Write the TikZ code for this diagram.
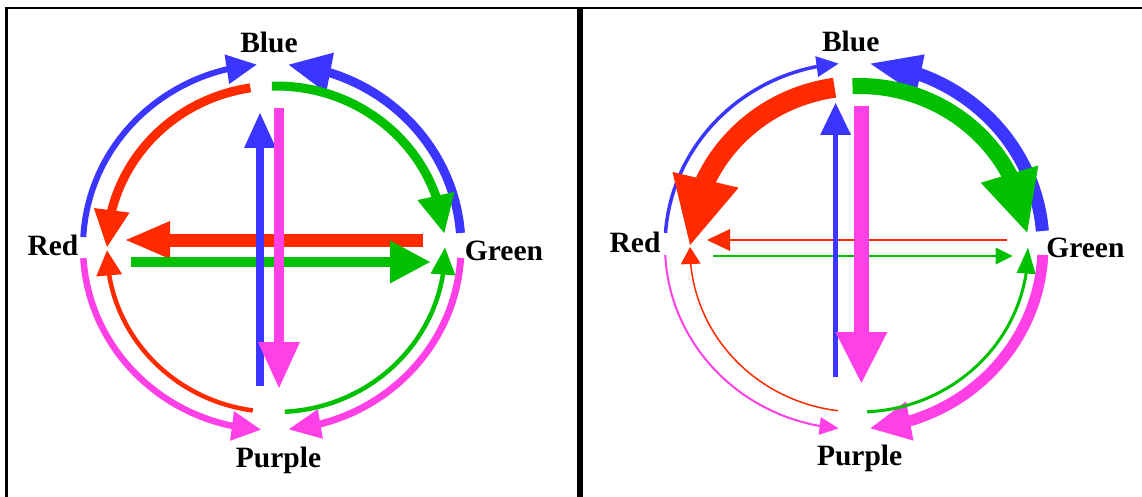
\documentclass[tikz,border=0pt]{standalone}
\usepackage{fontspec}
\setmainfont{Liberation Serif}
\definecolor{wheelblue}{RGB}{58,54,255}
\definecolor{wheelred}{RGB}{255,42,0}
\definecolor{wheelgreen}{RGB}{0,192,0}
\definecolor{wheelpurple}{RGB}{255,64,230}
\usetikzlibrary{arrows.meta,bending}

\begin{document}
\begin{tikzpicture}[x=1pt, y=-1pt,
  lbl/.style={font=\bfseries\fontsize{29.5}{30}\selectfont, inner sep=0pt, anchor=base},
  frame/.style={black, line width=2.6pt},
  ahead/.style 2 args={-{Triangle[length=#1pt, width=#2pt, line width=0pt, flex]}}]

\useasboundingbox (0,0) rectangle (1142,497);
\clip (0,0) rectangle (1142,497);

% --- Panel 1: left wheel ---
\draw[frame] (6.5,8) rectangle (578.5,530);
\coordinate (L-out) at (272,247);
\coordinate (L-in) at (276,249);

\node[lbl] (L-blue) at (269,53) {Blue};
\node[lbl] (L-red) at (53,255) {Red};
\node[lbl] (L-green) at (504,260) {Green};
\node[lbl] (L-purple) at (278.5,467) {Purple};

% outer ring
\draw[wheelblue, line width=6pt, ahead={30}{30}] (L-out) ++(183.1:189 and 183)
  arc[start angle=183.1, end angle=265.3, x radius=189, y radius=183];
\draw[wheelblue, line width=9pt, ahead={42}{41}] (L-out) ++(355.6:189 and 183)
  arc[start angle=355.6, end angle=275.1, x radius=189, y radius=183];
\draw[wheelpurple, line width=6.5pt, ahead={29}{30}] (L-out) ++(176.5:189 and 183)
  arc[start angle=176.5, end angle=93.4, x radius=189, y radius=183];
\draw[wheelpurple, line width=7pt, ahead={32}{30}] (L-out) ++(3.4:189 and 183)
  arc[start angle=3.4, end angle=84.9, x radius=189, y radius=183];

% inner ring
\draw[wheelred, line width=9pt, ahead={37}{36}] (L-in) ++(261.3:169 and 163)
  arc[start angle=261.3, end angle=180.7, x radius=169, y radius=163];
\draw[wheelred, line width=4.5pt, ahead={25}{26}] (L-in) ++(97.9:169 and 163)
  arc[start angle=97.9, end angle=179.5, x radius=169, y radius=163];
\draw[wheelgreen, line width=9pt, ahead={38}{38}] (L-in) ++(268.6:169 and 163)
  arc[start angle=268.6, end angle=354.4, x radius=169, y radius=163];
\draw[wheelgreen, line width=4.5pt, ahead={27}{25}] (L-in) ++(87:169 and 163)
  arc[start angle=87, end angle=-0.5, x radius=169, y radius=163];

% straight arrows
\coordinate (L-r1) at (423,240);   \coordinate (L-r2) at (126,240);
\coordinate (L-g1) at (131,262);   \coordinate (L-g2) at (430,262);
\coordinate (L-b1) at (260,386);   \coordinate (L-b2) at (260,113);
\coordinate (L-p1) at (279,108);   \coordinate (L-p2) at (279,388);
\draw[wheelred, line width=13pt, ahead={44}{38}] (L-r1) -- (L-r2);
\draw[wheelgreen, line width=10pt, ahead={40}{43}] (L-g1) -- (L-g2);
\draw[wheelblue, line width=8pt, ahead={35}{32}] (L-b1) -- (L-b2);
\draw[wheelpurple, line width=10pt, ahead={46}{42}] (L-p1) -- (L-p2);

% --- Panel 2: right wheel ---
\draw[frame] (581.5,8) rectangle (1160,530);
\coordinate (R-out) at (854,246);
\coordinate (R-in) at (859,249);

\node[lbl] (R-blue) at (850.7,52) {Blue};
\node[lbl] (R-red) at (635,252) {Red};
\node[lbl] (R-green) at (1085.4,257) {Green};
\node[lbl] (R-purple) at (859.6,465) {Purple};

% outer ring
\draw[wheelblue, line width=3.5pt, ahead={22}{21}] (R-out) ++(184.1:189 and 183)
  arc[start angle=184.1, end angle=265.3, x radius=189, y radius=183];
\draw[wheelblue, line width=13pt, ahead={51}{41}] (R-out) ++(355.3:189 and 183)
  arc[start angle=355.3, end angle=275, x radius=189, y radius=183];
\draw[wheelpurple, line width=2pt, ahead={19}{18}] (R-out) ++(177.2:189 and 183)
  arc[start angle=177.2, end angle=94.7, x radius=189, y radius=183];
\draw[wheelpurple, line width=11pt, ahead={40}{40}] (R-out) ++(2.8:189 and 183)
  arc[start angle=2.8, end angle=85, x radius=189, y radius=183];

% inner ring
\draw[wheelred, line width=20pt, ahead={67}{68}] (R-in) ++(261.7:169 and 163)
  arc[start angle=261.7, end angle=181.4, x radius=169, y radius=163];
\draw[wheelred, line width=1.5pt, ahead={17}{20}] (R-in) ++(97.1:169 and 163)
  arc[start angle=97.1, end angle=180.7, x radius=169, y radius=163];
\draw[wheelgreen, line width=16pt, ahead={61}{60}] (R-in) ++(267.8:169 and 163)
  arc[start angle=267.8, end angle=354.2, x radius=169, y radius=163];
\draw[wheelgreen, line width=3pt, ahead={26}{19}] (R-in) ++(87.3:169 and 163)
  arc[start angle=87.3, end angle=-0.5, x radius=169, y radius=163];

% straight arrows
\coordinate (R-r1) at (1006.5,240); \coordinate (R-r2) at (707,240);
\coordinate (R-g1) at (713,256);    \coordinate (R-g2) at (1012.6,256);
\coordinate (R-b1) at (835.6,377);  \coordinate (R-b2) at (835.6,103);
\coordinate (R-p1) at (861.4,106);  \coordinate (R-p2) at (861.4,383);
\draw[wheelred, line width=2pt, ahead={23}{22}] (R-r1) -- (R-r2);
\draw[wheelgreen, line width=2pt, ahead={17}{17}] (R-g1) -- (R-g2);
\draw[wheelblue, line width=5pt, ahead={32}{31}] (R-b1) -- (R-b2);
\draw[wheelpurple, line width=15pt, ahead={51}{52}] (R-p1) -- (R-p2);

\end{tikzpicture}
\end{document}
